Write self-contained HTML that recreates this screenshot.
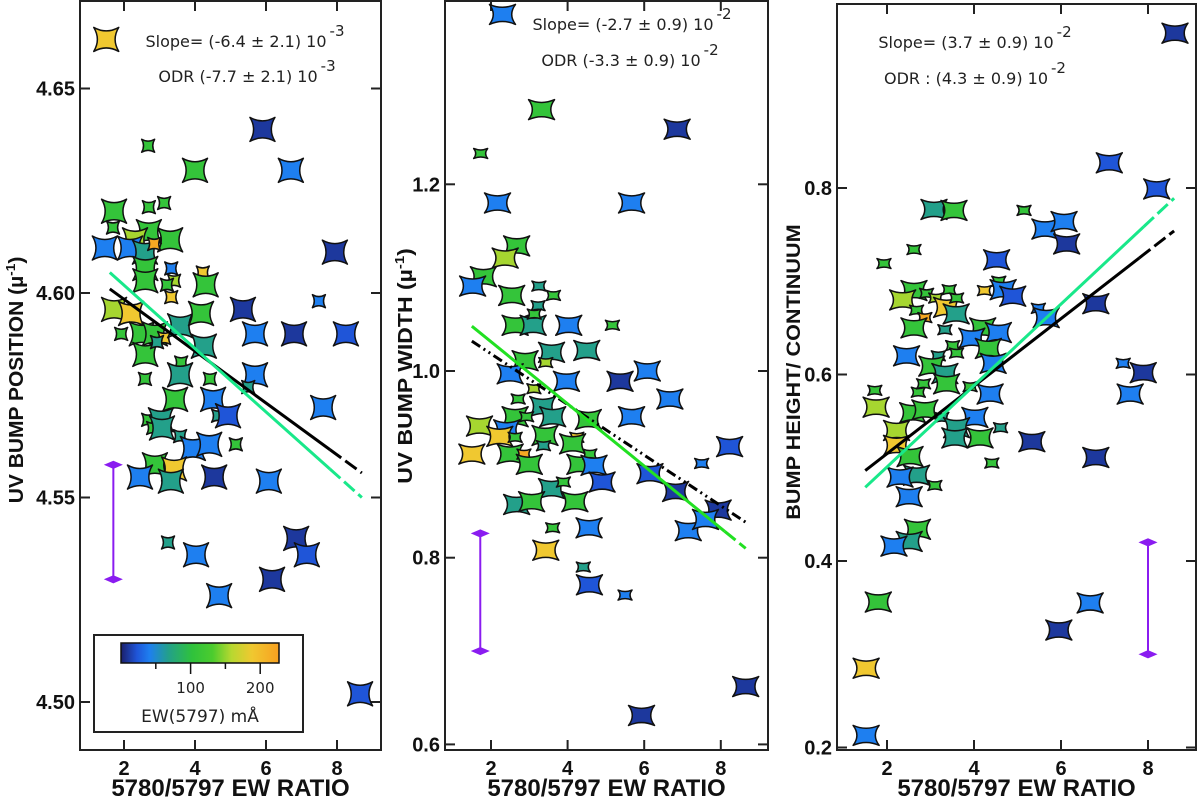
<!DOCTYPE html>
<html><head><meta charset="utf-8"><style>
body{margin:0;background:#fff;width:1200px;height:802px;overflow:hidden}
svg{display:block;font-family:"Liberation Sans",Arial,sans-serif}
</style></head><body>
<svg id="chart" width="1200" height="802" viewBox="0 0 1200 802" xmlns="http://www.w3.org/2000/svg">
<defs>
<linearGradient id="cmap" x1="0" x2="1" y1="0" y2="0">
<stop offset="0" stop-color="#1b1f6b"/><stop offset="0.1" stop-color="#1f55d8"/><stop offset="0.18" stop-color="#1e7ff0"/><stop offset="0.3" stop-color="#23a08a"/><stop offset="0.45" stop-color="#2fc23c"/><stop offset="0.58" stop-color="#4ccc2e"/><stop offset="0.7" stop-color="#b8d830"/><stop offset="0.83" stop-color="#f0c830"/><stop offset="1" stop-color="#f8a020"/>
</linearGradient>
</defs>
</svg>
<script>
// ---------- Panel 1 data: UV bump position ----------
const p1x=[1.5,4.0,5.9,6.7,2.68,1.72,1.69,1.46,2.70,3.13,3.30,2.70,2.31,2.17,2.59,2.85,2.60,2.60,3.33,3.41,3.21,3.33,4.22,4.30,1.72,2.20,1.92,2.50,2.87,3.13,3.58,4.17,2.60,2.93,4.25,3.61,3.58,4.42,2.59,5.35,5.69,6.79,8.25,7.94,7.49,5.69,5.5,3.44,4.51,2.68,3.04,2.82,3.07,3.58,4.65,4.93,3.94,4.40,5.15,7.61,2.87,3.41,2.45,3.32,4.54,6.08,3.24,4.03,6.85,7.15,6.17,4.68,8.65];
const p1y=[4.662,4.630,4.640,4.630,4.636,4.620,4.616,4.611,4.621,4.622,4.613,4.615,4.613,4.611,4.610,4.612,4.606,4.603,4.606,4.603,4.602,4.599,4.605,4.602,4.596,4.595,4.590,4.590,4.590,4.589,4.592,4.595,4.585,4.588,4.587,4.583,4.580,4.579,4.579,4.596,4.590,4.590,4.590,4.610,4.598,4.580,4.577,4.574,4.574,4.569,4.569,4.567,4.567,4.565,4.570,4.570,4.562,4.563,4.563,4.572,4.558,4.557,4.555,4.554,4.555,4.554,4.539,4.536,4.540,4.536,4.530,4.526,4.502];
const p1ew=[190,105,10,40,105,105,105,40,105,105,105,105,155,40,70,220,105,105,40,155,105,190,190,105,155,190,105,105,105,190,70,105,105,70,70,105,70,105,105,10,40,10,22,10,40,40,70,105,40,105,70,105,70,70,70,22,40,40,105,40,105,190,40,70,10,40,70,40,10,22,10,40,22];
const p1big=[1,1,1,1,0,1,0,1,0,0,1,1,1,1,1,0,1,1,0,0,0,0,0,1,1,1,0,1,1,0,1,1,1,0,1,0,1,0,0,1,1,1,1,1,0,1,0,1,1,0,1,0,1,0,0,1,1,1,0,1,1,1,1,1,1,1,0,1,1,1,1,1,1];
// ---------- Panel 2 data: UV bump width ----------
const p2x=[2.30,3.32,1.73,2.17,5.67,6.86,2.67,2.37,1.80,1.52,2.54,3.25,3.63,3.23,2.63,3.10,3.13,4.03,5.17,2.89,3.58,3.43,2.50,4.50,3.97,5.37,6.08,6.67,2.71,3.12,3.35,3.61,1.70,2.63,2.93,2.41,2.23,2.63,3.41,3.37,4.54,5.67,4.24,4.13,1.50,2.50,2.86,3.0,4.32,4.58,4.69,4.90,3.58,3.89,4.19,2.67,3.06,6.15,6.82,7.50,8.23,7.93,7.15,7.60,3.61,4.56,3.43,4.41,4.57,5.50,5.93,8.65];
const p2y=[1.382,1.280,1.233,1.180,1.180,1.259,1.134,1.121,1.101,1.091,1.081,1.091,1.081,1.070,1.049,1.049,1.061,1.049,1.049,1.011,1.020,1.009,0.997,1.022,0.989,0.989,1.000,0.970,0.970,0.981,0.962,0.951,0.941,0.951,0.951,0.937,0.930,0.929,0.931,0.920,0.948,0.951,0.929,0.922,0.911,0.911,0.911,0.900,0.900,0.911,0.899,0.881,0.874,0.881,0.860,0.857,0.860,0.890,0.871,0.901,0.919,0.851,0.829,0.841,0.832,0.832,0.808,0.790,0.771,0.760,0.631,0.662];
const p2ew=[40,105,105,40,40,10,105,155,105,40,105,70,105,70,105,70,105,40,105,105,70,155,40,70,40,10,40,40,105,155,70,70,155,105,105,40,190,105,105,70,105,40,190,105,190,105,220,105,105,105,40,22,70,105,105,70,105,22,10,40,22,10,40,40,105,40,190,70,22,40,10,10];
const p2big=[1,1,0,1,1,1,1,1,1,1,1,0,0,0,1,1,0,1,0,1,1,0,1,1,1,1,1,1,0,0,1,1,1,1,0,1,1,0,1,0,1,1,0,1,1,1,0,1,1,0,1,1,1,0,1,1,1,1,1,0,1,1,1,1,0,1,1,0,1,0,1,1];
// ---------- Panel 3 data: bump height / continuum ----------
const p3x=[8.62,7.11,8.20,3.08,3.54,5.15,5.63,6.07,6.13,2.62,1.93,4.52,4.57,4.67,4.89,4.24,2.62,2.91,2.36,3.12,3.43,3.37,3.59,3.60,2.68,2.87,5.48,5.66,6.80,2.62,3.33,4.20,4.56,3.95,2.45,3.18,4.33,4.44,3.51,3.60,3.03,3.33,3.37,1.72,2.72,2.84,3.91,4.37,1.75,2.59,2.87,3.26,4.02,3.60,3.56,4.61,4.14,2.22,2.22,5.33,6.80,2.53,4.41,2.68,2.30,3.10,2.51,2.70,2.51,2.16,1.80,5.95,6.67,1.52,1.52,7.89,7.43,7.59];
const p3y=[0.966,0.827,0.799,0.777,0.776,0.776,0.756,0.764,0.740,0.734,0.719,0.723,0.700,0.691,0.684,0.690,0.690,0.687,0.680,0.682,0.691,0.672,0.665,0.682,0.669,0.661,0.671,0.661,0.676,0.650,0.648,0.650,0.645,0.639,0.620,0.620,0.628,0.612,0.631,0.623,0.609,0.601,0.590,0.583,0.581,0.590,0.587,0.579,0.565,0.559,0.562,0.554,0.554,0.543,0.532,0.543,0.532,0.540,0.524,0.528,0.511,0.512,0.505,0.492,0.490,0.481,0.469,0.434,0.421,0.416,0.356,0.326,0.355,0.285,0.213,0.602,0.612,0.579];
const p3ew=[10,22,22,70,105,105,40,40,10,105,105,22,105,40,22,190,105,105,155,155,105,190,70,105,105,220,40,40,10,105,70,105,40,40,40,70,105,40,105,105,105,70,105,105,105,105,105,40,155,105,105,70,40,70,70,70,105,155,190,10,10,105,105,70,40,105,40,105,70,40,105,10,40,190,40,10,40,40];
const p3big=[1,1,1,1,1,0,1,1,1,0,0,1,0,1,1,0,1,0,1,0,0,1,1,0,0,0,0,1,1,1,0,1,1,1,1,0,1,1,0,0,1,1,1,0,0,0,0,1,1,1,1,0,1,1,1,0,1,1,1,1,1,1,0,1,1,0,1,1,1,1,1,1,1,1,1,1,0,1];
// fits: [x0,y0,x1,y1,xSolidEnd]
const p1fitOLS=[1.6,4.601,8.7,4.556,7.8];
const p1fitODR=[1.6,4.605,8.7,4.550,7.8];
const p2fitOLS=[1.5,1.048,8.65,0.810,8.1];
const p2fitODR=[1.5,1.032,8.65,0.838,8.65];
const p3fitOLS=[1.5,0.497,8.6,0.754,7.8];
const p3fitODR=[1.5,0.479,8.6,0.789,7.9];
const p1err=[1.7,4.530,4.558];
const p2err=[1.72,0.700,0.826];
const p3err=[8.0,0.300,0.420];
const p1yticks=[4.50,4.55,4.60,4.65];
const p2yticks=[0.6,0.8,1.0,1.2];
const p3yticks=[0.2,0.4,0.6,0.8];
const xticks=[2,4,6,8];
const cbTicks=[50,100,150,200];
const cbLabels=[100,200];

const NS='http://www.w3.org/2000/svg';
const svg=document.getElementById('chart');
function mk(tag,attrs,parent){const e=document.createElementNS(NS,tag);for(const k in attrs)e.setAttribute(k,attrs[k]);(parent||svg).appendChild(e);return e;}
const stops=[[0,[27,31,107]],[22,[31,85,216]],[40,[30,127,240]],[70,[35,160,138]],[100,[47,194,60]],[130,[76,204,46]],[160,[184,216,48]],[190,[240,200,48]],[227,[248,160,32]]];
function cmap(v){for(let i=1;i<stops.length;i++){if(v<=stops[i][0]){const a=stops[i-1],b=stops[i],t=(v-a[0])/(b[0]-a[0]);return 'rgb('+a[1].map((c,j)=>Math.round(c+(b[1][j]-c)*t)).join(',')+')';}}return 'rgb(248,160,32)';}
function star(cx,cy,rx,ry){const k=0.42;return `M${cx-rx},${cy-ry} Q${cx},${cy-ry*k} ${cx+rx},${cy-ry} Q${cx+rx*k},${cy} ${cx+rx},${cy+ry} Q${cx},${cy+ry*k} ${cx-rx},${cy+ry} Q${cx-rx*k},${cy} ${cx-rx},${cy-ry} Z`;}

const panels=[
 {id:'position',L:80,R:381,T:1,B:750,x2:124,xs:35.5,y0:4.60,py0:293,ys:4090,xs_:p1x,ys_:p1y,ew:p1ew,big:p1big,yt:p1yticks,fmt:v=>v.toFixed(2),rx:[6.5,12.5],ry:[6.5,12],fits:[[p1fitOLS,'#000','solid'],[p1fitODR,'#19e88a','dashed']],err:p1err,ytitle:'UV BUMP POSITION (µ',ytx:23,yty:380,fs:20,ysc:1.05},
 {id:'width',L:445,R:768,T:1,B:750,x2:491,xs:38.3,y0:1.0,py0:371,ys:933.5,xs_:p2x,ys_:p2y,ew:p2ew,big:p2big,yt:p2yticks,fmt:v=>v.toFixed(1),rx:[7,13],ry:[5,10],fits:[[p2fitODR,'#000','dashdot'],[p2fitOLS,'#22e022','solid']],err:p2err,ytitle:'UV BUMP WIDTH  (µ',ytx:412,yty:366,fs:20,ysc:1.15},
 {id:'height',L:837,R:1196,T:4,B:750,x2:887,xs:43.5,y0:0.8,py0:188,ys:932.5,xs_:p3x,ys_:p3y,ew:p3ew,big:p3big,yt:p3yticks,fmt:v=>v.toFixed(1),rx:[7,13],ry:[5,10],fits:[[p3fitOLS,'#000','solid'],[p3fitODR,'#19e88a','solid']],err:p3err,ytitle:'BUMP HEIGHT/ CONTINUUM',ytx:800,yty:372,fs:19,ysc:1.14}
];
panels.forEach((p,pi)=>{
 const X=v=>p.x2+(v-2)*p.xs, Y=v=>p.py0-(v-p.y0)*p.ys;
 const g=mk('g',{});
 
 
 const fr=mk('rect',{x:p.L,y:p.T,width:p.R-p.L,height:p.B-p.T,fill:'none',stroke:'#222','stroke-width':2},g);
 
 
 xticks.forEach(t=>{const x=X(t);
  mk('line',{x1:x,x2:x,y1:p.B,y2:p.B-10,stroke:'#222','stroke-width':2},g);
  mk('line',{x1:x,x2:x,y1:p.T,y2:p.T+10,stroke:'#222','stroke-width':2},g);
  const tl=mk('text',{x:x,y:p.B+25,'text-anchor':'middle','font-size':20,'font-weight':'bold',fill:'#111'},g);tl.textContent=t;
  
  
 });
 p.yt.forEach(t=>{const y=Y(t);
  mk('line',{x1:p.L,x2:p.L+10,y1:y,y2:y,stroke:'#222','stroke-width':2},g);
  mk('line',{x1:p.R,x2:p.R-10,y1:y,y2:y,stroke:'#222','stroke-width':2},g);
  const tl=mk('text',{x:p.L-5,y:y+7,'text-anchor':'end','font-size':20,'font-weight':'bold',fill:'#111'},g);tl.textContent=p.fmt(t);
  
  
 });
 const xt=mk('text',{x:(p.L+p.R)/2,y:796,'text-anchor':'middle','font-size':24,'font-weight':'bold',fill:'#111'},g);xt.textContent='5780/5797 EW RATIO';
 
 
 const yt=mk('text',{transform:`translate(${p.ytx},${p.yty}) rotate(-90) scale(${p.ysc},1)`,'text-anchor':'middle','font-size':p.fs,'font-weight':'bold',fill:'#111'},g);
 yt.textContent=p.ytitle;
 if(pi<2){const s=mk('tspan',{'font-size':13,dy:-8},yt);s.textContent='-1';const s2=mk('tspan',{dy:8},yt);s2.textContent=')';}
 
 
 // error bar
 const e=p.err, ex=X(e[0]), ey1=Y(e[1]), ey2=Y(e[2]);
 const eb=mk('g',{stroke:'#8a1cf0',fill:'#8a1cf0','stroke-width':2},g);
 
 
 mk('line',{x1:ex,x2:ex,y1:ey1,y2:ey2},eb);
 [ey1,ey2].forEach(yy=>mk('path',{d:`M${ex-7},${yy} L${ex},${yy-3} L${ex+7},${yy} L${ex},${yy+3}Z`},eb));
 // points
 p.xs_.forEach((xv,i)=>{const b=p.big[i]?1:0;
  const pt=mk('path',{d:star(X(xv),Y(p.ys_[i]),p.rx[b],p.ry[b]),fill:cmap(p.ew[i]),stroke:'#111','stroke-width':1.5,'stroke-linejoin':'round'},g);
  
  
 });
 // fits
 p.fits.forEach(([f,col,sty])=>{const [x0,y0,x1,y1,xs]=f;const ys=y0+(y1-y0)*(xs-x0)/(x1-x0);
  const da=sty==='dashdot'?'10,4,2,4,2,4':null;
  const l=mk('line',{x1:X(x0),y1:Y(y0),x2:X(xs),y2:Y(ys),stroke:col,'stroke-width':3},g);
  if(da)l.setAttribute('stroke-dasharray',da);
  
  
  if(xs<x1){const l2=mk('line',{x1:X(xs),y1:Y(ys),x2:X(x1),y2:Y(y1),stroke:col,'stroke-width':3,'stroke-dasharray':'14,5'},g);
   
   }
 });
});
// annotations
const ann=[[245,47,'Slope= (-6.4 ± 2.1) 10','-3'],[247,82,'ODR  (-7.7 ± 2.1) 10','-3'],[632,30,'Slope= (-2.7 ± 0.9) 10','-2'],[630,66,'ODR (-3.3 ± 0.9) 10','-2'],[975,48,'Slope= (3.7 ± 0.9) 10','-2'],[975,84,'ODR : (4.3 ± 0.9) 10','-2']];
ann.forEach(([x,y,t,e])=>{
 const tx=mk('text',{x:x,y:y,'text-anchor':'middle','font-size':16,fill:'#222','font-family':'"DejaVu Sans",sans-serif'});
 tx.textContent=t;
 const s=mk('tspan',{'font-size':15,dy:-11,dx:3},tx);s.textContent=e;
 
 
});
// colorbar legend
const lg=mk('g',{});


mk('rect',{x:94,y:635,width:209,height:97,fill:'#fff',stroke:'#222','stroke-width':2},lg);
const cb=mk('rect',{x:121,y:643,width:158,height:20,fill:'url(#cmap)',stroke:'#111','stroke-width':1.5},lg);


const cbX=v=>121+v*158/227;
cbTicks.forEach((t,i)=>mk('line',{x1:cbX(t),x2:cbX(t),y1:663,y2:i%2?674:669,stroke:'#111','stroke-width':1.5},lg));
cbLabels.forEach(t=>{const tl=mk('text',{x:cbX(t),y:693,'text-anchor':'middle','font-size':15,fill:'#222','font-family':'"DejaVu Sans",sans-serif'},lg);tl.textContent=t;
 
 });
const ct=mk('text',{x:200,y:722,'text-anchor':'middle','font-size':17,fill:'#222','font-family':'"DejaVu Sans",sans-serif'},lg);ct.textContent='EW(5797) mÅ';


</script>
</body></html>
